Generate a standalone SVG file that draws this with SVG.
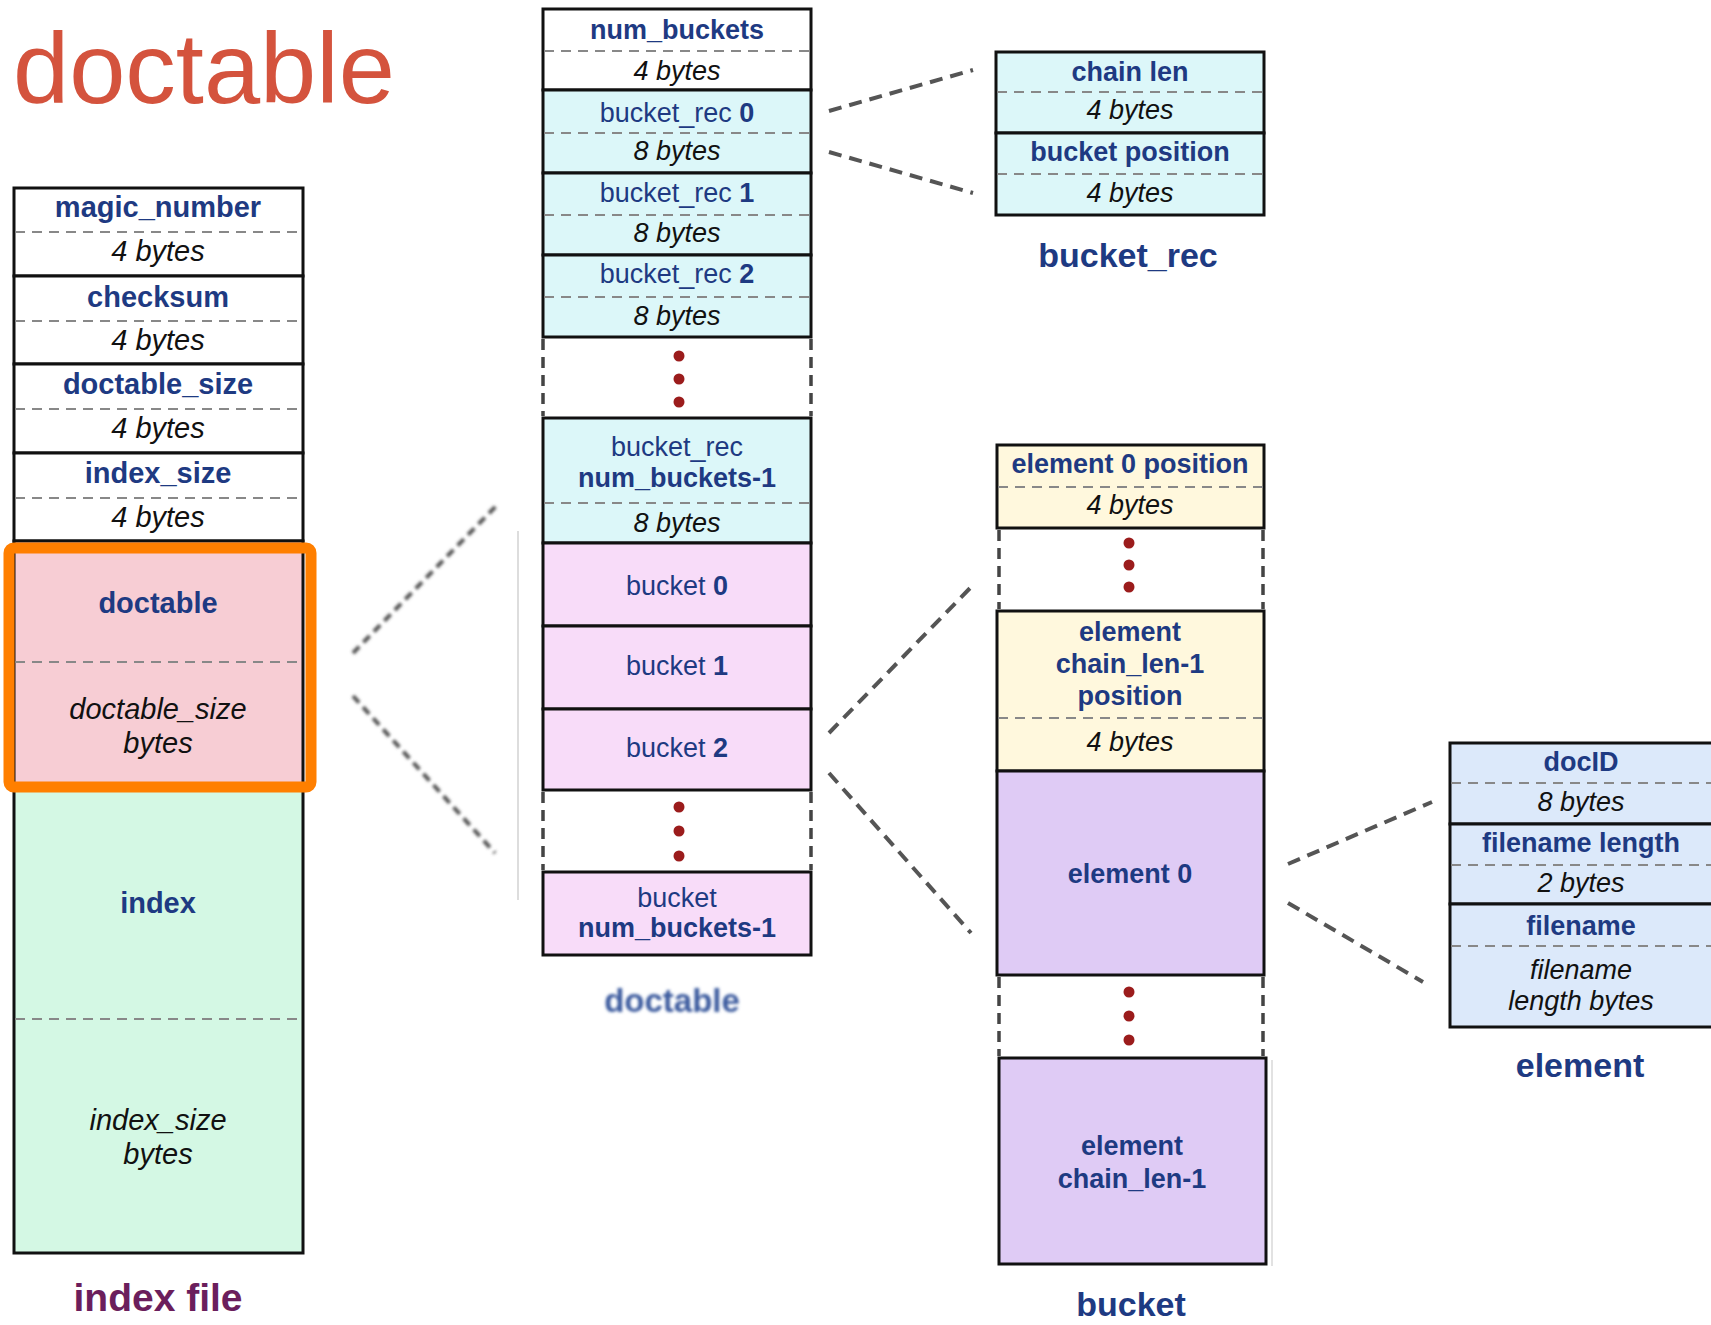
<svg xmlns="http://www.w3.org/2000/svg" width="1711" height="1325" viewBox="0 0 1711 1325">
<defs>
<style>
.cell{stroke:#111;stroke-width:3}
.dash{stroke:#888;stroke-width:2;stroke-dasharray:10 7;fill:none}
.gap{stroke:#444;stroke-width:3.5;stroke-dasharray:11 7;fill:none}
.conn{stroke:#555;stroke-width:4;stroke-dasharray:13 8;fill:none}
.bconn{stroke:#555;stroke-width:4;stroke-dasharray:9 6;fill:none}
.dot{fill:#9b1c1c}
text{font-family:"Liberation Sans",Arial,Helvetica,sans-serif;text-anchor:middle}
.lbl{fill:#1e3a82;font-size:27px}
.lbl29{fill:#1e3a82;font-size:29px}
.b{font-weight:bold}
.it{font-style:italic;fill:#111;font-size:27px}
.it29{font-style:italic;fill:#111;font-size:29px}
.cap{font-size:34px;font-weight:bold;fill:#1e3a82}
.white{fill:#ffffff}
.cyan{fill:#dcf7f9}
.pink{fill:#f8dcf9}
.yellow{fill:#fff8dd}
.purple{fill:#dfcbf5}
.blue{fill:#dce9fa}
</style>
<filter id="blur" x="-10%" y="-10%" width="120%" height="120%"><feGaussianBlur stdDeviation="1.4"/></filter>
</defs>
<rect width="1711" height="1325" fill="#ffffff"/>

<text id="title" x="13" y="103" style="text-anchor:start;font-size:101px;fill:#d4533d">doctable</text>

<g id="connectors">
  <g filter="url(#blur)">
    <line class="bconn" x1="353" y1="653" x2="498" y2="504"/>
    <line class="bconn" x1="353" y1="696" x2="495" y2="853"/>
  </g>
  <line class="conn" x1="829" y1="111" x2="973" y2="70"/>
  <line class="conn" x1="829" y1="152" x2="973" y2="193"/>
  <line class="conn" x1="829" y1="733" x2="974" y2="584"/>
  <line class="conn" x1="829" y1="773" x2="971" y2="933"/>
  <line class="conn" x1="1288" y1="864" x2="1432" y2="802"/>
  <line class="conn" x1="1288" y1="903" x2="1423" y2="982"/>
  <line x1="518" y1="531" x2="518" y2="900" stroke="#dddddd" stroke-width="2"/>
  <line x1="1272" y1="1060" x2="1272" y2="1266" stroke="#e2e2e2" stroke-width="2"/>
</g>

<g id="index-file">
  <g id="magic_number">
    <rect class="cell white" x="14" y="188" width="289" height="88"/>
    <line class="dash" x1="15" y1="232" x2="302" y2="232"/>
    <text class="lbl29 b" x="158" y="217">magic_number</text>
    <text class="it29" x="158" y="261">4 bytes</text>
  </g>
  <g id="checksum">
    <rect class="cell white" x="14" y="276" width="289" height="88"/>
    <line class="dash" x1="15" y1="321" x2="302" y2="321"/>
    <text class="lbl29 b" x="158" y="307">checksum</text>
    <text class="it29" x="158" y="350">4 bytes</text>
  </g>
  <g id="doctable_size">
    <rect class="cell white" x="14" y="364" width="289" height="89"/>
    <line class="dash" x1="15" y1="409" x2="302" y2="409"/>
    <text class="lbl29 b" x="158" y="394">doctable_size</text>
    <text class="it29" x="158" y="438">4 bytes</text>
  </g>
  <g id="index_size">
    <rect class="cell white" x="14" y="453" width="289" height="88"/>
    <line class="dash" x1="15" y1="498" x2="302" y2="498"/>
    <text class="lbl29 b" x="158" y="483">index_size</text>
    <text class="it29" x="158" y="527">4 bytes</text>
  </g>
  <g id="doctable-region">
    <rect class="cell" fill="#f7cdd4" x="14" y="541" width="289" height="243"/>
    <line class="dash" x1="15" y1="662" x2="302" y2="662"/>
    <text class="lbl29 b" x="158" y="613">doctable</text>
    <text class="it29" x="158" y="719">doctable_size</text>
    <text class="it29" x="158" y="753">bytes</text>
  </g>
  <g id="index-region">
    <rect class="cell" fill="#d4f8e4" x="14" y="784" width="289" height="469"/>
    <line class="dash" x1="15" y1="1019" x2="302" y2="1019"/>
    <text class="lbl29 b" x="158" y="913">index</text>
    <text class="it29" x="158" y="1130">index_size</text>
    <text class="it29" x="158" y="1164">bytes</text>
  </g>
  <rect id="highlight" x="9" y="548" width="302" height="239" rx="5" fill="none" stroke="#ff7f00" stroke-width="11"/>
  <text id="cap-index-file" x="158" y="1311" style="font-size:39px;font-weight:bold;fill:#6b1e5c">index file</text>
</g>

<g id="doctable">
  <g id="num_buckets">
    <rect class="cell white" x="543" y="9" width="268" height="81"/>
    <line class="dash" x1="544" y1="51" x2="810" y2="51"/>
    <text class="lbl b" x="677" y="39">num_buckets</text>
    <text class="it" x="677" y="80">4 bytes</text>
  </g>
  <g id="bucket_rec0">
    <rect class="cell cyan" x="543" y="90" width="268" height="83"/>
    <line class="dash" x1="544" y1="133" x2="810" y2="133"/>
    <text class="lbl" x="677" y="122">bucket_rec <tspan class="b">0</tspan></text>
    <text class="it" x="677" y="160">8 bytes</text>
  </g>
  <g id="bucket_rec1">
    <rect class="cell cyan" x="543" y="173" width="268" height="82"/>
    <line class="dash" x1="544" y1="215" x2="810" y2="215"/>
    <text class="lbl" x="677" y="202">bucket_rec <tspan class="b">1</tspan></text>
    <text class="it" x="677" y="242">8 bytes</text>
  </g>
  <g id="bucket_rec2">
    <rect class="cell cyan" x="543" y="255" width="268" height="82"/>
    <line class="dash" x1="544" y1="297" x2="810" y2="297"/>
    <text class="lbl" x="677" y="283">bucket_rec <tspan class="b">2</tspan></text>
    <text class="it" x="677" y="325">8 bytes</text>
  </g>
  <g id="gap-bucket_rec">
    <line class="gap" x1="543" y1="339" x2="543" y2="416"/>
    <line class="gap" x1="811" y1="339" x2="811" y2="416"/>
    <circle class="dot" cx="679" cy="356" r="5.5"/>
    <circle class="dot" cx="679" cy="379" r="5.5"/>
    <circle class="dot" cx="679" cy="402" r="5.5"/>
  </g>
  <g id="bucket_rec_last">
    <rect class="cell cyan" x="543" y="418" width="268" height="125"/>
    <line class="dash" x1="544" y1="503" x2="810" y2="503"/>
    <text class="lbl" x="677" y="456">bucket_rec</text>
    <text class="lbl b" x="677" y="487">num_buckets-1</text>
    <text class="it" x="677" y="532">8 bytes</text>
  </g>
  <g id="bucket0">
    <rect class="cell pink" x="543" y="543" width="268" height="83"/>
    <text class="lbl" x="677" y="595">bucket <tspan class="b">0</tspan></text>
  </g>
  <g id="bucket1">
    <rect class="cell pink" x="543" y="626" width="268" height="83"/>
    <text class="lbl" x="677" y="675">bucket <tspan class="b">1</tspan></text>
  </g>
  <g id="bucket2">
    <rect class="cell pink" x="543" y="709" width="268" height="81"/>
    <text class="lbl" x="677" y="757">bucket <tspan class="b">2</tspan></text>
  </g>
  <g id="gap-bucket">
    <line class="gap" x1="543" y1="792" x2="543" y2="870"/>
    <line class="gap" x1="811" y1="792" x2="811" y2="870"/>
    <circle class="dot" cx="679" cy="807" r="5.5"/>
    <circle class="dot" cx="679" cy="831" r="5.5"/>
    <circle class="dot" cx="679" cy="856" r="5.5"/>
  </g>
  <g id="bucket_last">
    <rect class="cell pink" x="543" y="872" width="268" height="83"/>
    <text class="lbl" x="677" y="907">bucket</text>
    <text class="lbl b" x="677" y="937">num_buckets-1</text>
  </g>
  <text id="cap-doctable" class="cap" x="672" y="1012" filter="url(#blur)" style="font-size:33px;fill:#3a5a9e">doctable</text>
</g>

<g id="bucket_rec">
  <g id="chain_len">
    <rect class="cell cyan" x="996" y="52" width="268" height="81"/>
    <line class="dash" x1="997" y1="92" x2="1263" y2="92"/>
    <text class="lbl b" x="1130" y="81">chain len</text>
    <text class="it" x="1130" y="119">4 bytes</text>
  </g>
  <g id="bucket_position">
    <rect class="cell cyan" x="996" y="133" width="268" height="82"/>
    <line class="dash" x1="997" y1="174" x2="1263" y2="174"/>
    <text class="lbl b" x="1130" y="161">bucket position</text>
    <text class="it" x="1130" y="202">4 bytes</text>
  </g>
  <text id="cap-bucket_rec" class="cap" x="1128" y="267">bucket_rec</text>
</g>

<g id="bucket">
  <g id="element0_position">
    <rect class="cell yellow" x="997" y="445" width="267" height="83"/>
    <line class="dash" x1="998" y1="487" x2="1263" y2="487"/>
    <text class="lbl b" x="1130" y="473">element 0 position</text>
    <text class="it" x="1130" y="514">4 bytes</text>
  </g>
  <g id="gap-position">
    <line class="gap" x1="999" y1="530" x2="999" y2="609"/>
    <line class="gap" x1="1263" y1="530" x2="1263" y2="609"/>
    <circle class="dot" cx="1129" cy="543" r="5.5"/>
    <circle class="dot" cx="1129" cy="565" r="5.5"/>
    <circle class="dot" cx="1129" cy="587" r="5.5"/>
  </g>
  <g id="element_last_position">
    <rect class="cell yellow" x="997" y="611" width="267" height="160"/>
    <line class="dash" x1="998" y1="718" x2="1263" y2="718"/>
    <text class="lbl b" x="1130" y="641">element</text>
    <text class="lbl b" x="1130" y="673">chain_len-1</text>
    <text class="lbl b" x="1130" y="705">position</text>
    <text class="it" x="1130" y="751">4 bytes</text>
  </g>
  <g id="element0">
    <rect class="cell purple" x="997" y="771" width="267" height="204"/>
    <text class="lbl b" x="1130" y="883">element 0</text>
  </g>
  <g id="gap-element">
    <line class="gap" x1="999" y1="977" x2="999" y2="1056"/>
    <line class="gap" x1="1263" y1="977" x2="1263" y2="1056"/>
    <circle class="dot" cx="1129" cy="992" r="5.5"/>
    <circle class="dot" cx="1129" cy="1016" r="5.5"/>
    <circle class="dot" cx="1129" cy="1040" r="5.5"/>
  </g>
  <g id="element_last">
    <rect class="cell purple" x="999" y="1058" width="267" height="206"/>
    <text class="lbl b" x="1132" y="1155">element</text>
    <text class="lbl b" x="1132" y="1188">chain_len-1</text>
  </g>
  <text id="cap-bucket" class="cap" x="1131" y="1316">bucket</text>
</g>

<g id="element">
  <g id="docID">
    <rect class="cell blue" x="1450" y="743" width="264" height="81"/>
    <line class="dash" x1="1451" y1="783" x2="1711" y2="783"/>
    <text class="lbl b" x="1581" y="771">docID</text>
    <text class="it" x="1581" y="811">8 bytes</text>
  </g>
  <g id="filename_length">
    <rect class="cell blue" x="1450" y="824" width="264" height="80"/>
    <line class="dash" x1="1451" y1="865" x2="1711" y2="865"/>
    <text class="lbl b" x="1581" y="852">filename length</text>
    <text class="it" x="1581" y="892">2 bytes</text>
  </g>
  <g id="filename">
    <rect class="cell blue" x="1450" y="904" width="264" height="123"/>
    <line class="dash" x1="1451" y1="946" x2="1711" y2="946"/>
    <text class="lbl b" x="1581" y="935">filename</text>
    <text class="it" x="1581" y="979">filename</text>
    <text class="it" x="1581" y="1010">length bytes</text>
  </g>
  <text id="cap-element" class="cap" x="1580" y="1077">element</text>
</g>
</svg>
